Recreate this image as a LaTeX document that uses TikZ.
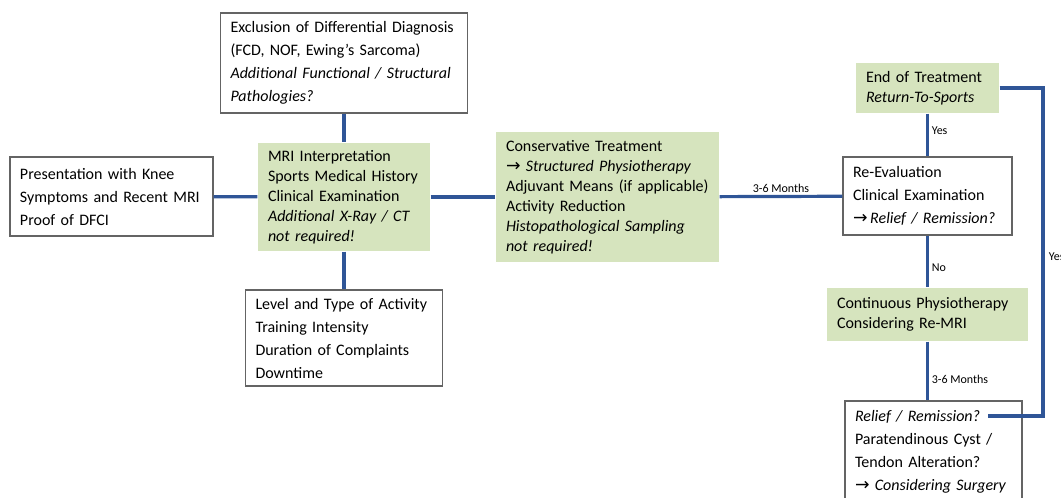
\documentclass[tikz,border=0pt]{standalone}
\usepackage{fontspec}
\setmainfont{Carlito}
\newfontfamily\arrowfont{DejaVu Sans}
\newcommand{\arr}{{\arrowfont\fontsize{13}{12}\selectfont →}}
\definecolor{linkblue}{RGB}{47,85,151}
\definecolor{boxgreen}{RGB}{214,228,190}
\definecolor{boxgray}{RGB}{100,100,100}

\begin{document}
\begin{tikzpicture}[x=0.75pt,y=-0.75pt,
	box/.style={draw=boxgray,line width=0.8pt,inner xsep=7.5pt,inner ysep=0pt,align=left,font=\fontsize{12}{17.25}\selectfont},
	gbox/.style={box,draw=none,fill=boxgreen,font=\fontsize{12}{15}\selectfont},
	link/.style={draw=linkblue,line width=2.4pt},
	lbl/.style={font=\fontsize{9}{10}\selectfont,inner sep=2pt}]
		\useasboundingbox (0,0) rectangle (1061,497);

		% left part
		\node[box,text width=137.25pt,minimum height=59.25pt] (pres) at (111.5,196.5) {Presentation with Knee\\Symptoms and Recent MRI\\Proof of DFCI};
		\node[gbox,text width=114pt,minimum height=81pt] (mri) at (344,197) {MRI Interpretation\\Sports Medical History\\Clinical Examination\\\textit{Additional X-Ray / CT}\\\textit{not required!}};
		\node[box,text width=170.25pt,minimum height=75pt] (excl) at (344,63) {Exclusion of Differential Diagnosis\\(FCD, NOF, Ewing’s Sarcoma)\\\textit{Additional Functional / Structural}\\\textit{Pathologies?}};
		\node[box,text width=132.75pt,minimum height=72pt] (act) at (344,338) {Level and Type of Activity\\Training Intensity\\Duration of Complaints\\Downtime};
		\node[gbox,text width=152.25pt,minimum height=97.5pt] (cons) at (607.5,197) {Conservative Treatment\\\arr\ \textit{Structured Physiotherapy}\\\mbox{Adjuvant Means (if applicable)}\\Activity Reduction\\\textit{Histopathological Sampling}\\\textit{not required!}};

		% right part
		\node[gbox,text width=92.25pt,minimum height=37.5pt] (endt) at (927.5,88) {End of Treatment\\\textit{Return-To-Sports}};
		\node[box,text width=111.75pt,minimum height=58.5pt] (reev) at (927.5,196) {Re-Evaluation\\Clinical Examination\\\arr\,\textit{Relief / Remission?}};
		\node[gbox,text width=135.75pt,minimum height=39.75pt] (cont) at (927.5,314.5) {Continuous Physiotherapy\\Considering Re-MRI};
		\node[box,text width=117.75pt,minimum height=75.75pt] (relf) at (933.5,451.5) {\textit{Relief / Remission?}\\Paratendinous Cyst /\\Tendon Alteration?\\\arr\ \textit{Considering Surgery}};
		\coordinate (yesturn) at (1043,416);
		\coordinate (relfend) at (988,416);

		\draw[link] (pres) -- (mri);
		\draw[link] (excl) -- (mri);
		\draw[link] (mri) -- (act);
		\draw[link] (mri) -- (cons);
		\draw[link] (cons) -- node[lbl,above] {3-6 Months} (reev);
		\draw[link] (endt) -- node[lbl,right,pos=0.39] {Yes} (reev);
		\draw[link] (reev) -- node[lbl,right,pos=0.62] {No} (cont);
		\draw[link] (cont.south) -- node[lbl,right,pos=0.65] {3-6 Months} (cont.south |- relf.north);
		\draw[link] (endt.east) -| (yesturn) -- (relfend);
		\node[lbl,anchor=west] (yes2) at (1046,257) {Yes};
	    \end{tikzpicture}
\end{document}
